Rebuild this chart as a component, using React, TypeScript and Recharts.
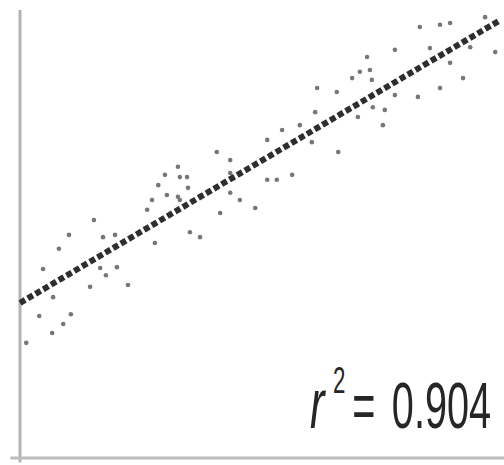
import { ComposedChart, Scatter, Line, XAxis, YAxis, ReferenceLine } from "recharts"

const xs = [
  1.3, 6.7, 9.0, 10.6, 4.0, 6.9, 4.8, 8.1, 10.2, 15.4, 14.6, 17.9, 16.7, 20.2, 22.5, 17.3, 19.8, 28.1,
  26.5, 27.5, 28.8, 30.2, 32.9, 33.3, 34.8, 30.6, 32.9, 35.0, 33.3, 41.0, 43.8, 43.8, 43.8, 45.8, 41.7,
  49.0, 35.4, 37.5, 51.5, 54.6, 58.3, 60.8, 61.5, 51.5, 53.5, 56.7, 61.9, 66.3, 66.0, 69.2, 70.8, 72.3,
  72.9, 73.3, 73.5, 76.0, 75.6, 70.4, 78.1, 82.9, 87.5, 92.3, 89.6, 85.4, 78.1, 83.3, 87.5, 89.6, 93.8,
  99.0, 96.9,
]
const ys = [
  25.7, 27.9, 29.9, 32.1, 31.7, 35.9, 42.2, 46.7, 49.8, 53.1, 38.2, 40.8, 42.4, 42.6, 38.6, 49.3, 49.8, 48.0,
  55.4, 57.6, 60.9, 63.2, 65.0, 62.7, 62.7, 58.7, 58.3, 60.3, 57.6, 68.3, 66.5, 63.6, 59.2, 57.6, 54.7,
  55.8, 50.4, 49.3, 71.0, 73.2, 74.3, 70.5, 77.2, 62.1, 62.1, 63.2, 82.6, 68.3, 81.7, 84.8, 86.2, 89.5,
  86.6, 84.4, 78.3, 77.7, 74.3, 76.1, 81.0, 80.6, 82.6, 84.8, 88.2, 91.5, 91.1, 96.2, 96.7, 97.1, 91.7,
  90.6, 98.4,
]

// fitted line endpoints
const fitX = [0, 100]
const fitY = [34.6, 97.7]

const rSquared = "0.904"

const points = xs.map((x, i) => ({ x, y: ys[i] }))
const fit = fitX.map((x, i) => ({ x, fy: fitY[i] }))

export default function App() {
  return (
    <div style={{ position: "absolute", left: 0, top: 0, width: 504, height: 465, background: "#fff" }}>
      <ComposedChart width={504} height={465} margin={{ top: 10, right: 4, bottom: 7, left: 20 }}>
        <XAxis type="number" dataKey="x" domain={[0, 100]} hide />
        <YAxis type="number" domain={[0, 100]} hide />
        <ReferenceLine
          segment={[{ x: 0, y: -1 }, { x: 0, y: 100 }]}
          stroke="#b4b4b4"
          strokeWidth={3}
          ifOverflow="visible"
        />
        <ReferenceLine
          segment={[{ x: -2, y: 0 }, { x: 101, y: 0 }]}
          stroke="#bcbcbc"
          strokeWidth={3}
          ifOverflow="visible"
        />
        <Scatter
          data={points}
          dataKey="y"
          fill="#777"
          shape={(p: any) => <circle cx={p.cx} cy={p.cy} r={2.3} fill="#777" />}
          isAnimationActive={false}
        />
        <Line
          data={fit}
          dataKey="fy"
          type="linear"
          stroke="#2e2e2e"
          strokeWidth={6}
          strokeDasharray="6 3"
          dot={false}
          activeDot={false}
          isAnimationActive={false}
        />
      </ComposedChart>
      <svg
        width={504}
        height={465}
        style={{ position: "absolute", left: 0, top: 0, pointerEvents: "none" }}
      >
        <text
          transform="translate(310,428) scale(0.62,1)"
          fontFamily="Liberation Sans, Arial, sans-serif"
          fontSize={64}
          fill="#262626"
        >
          <tspan x={0} fontSize={70} fontStyle="italic">r</tspan>
          <tspan x={37} dy={-35} fontSize={36}>2</tspan>
          <tspan x={68} dy={35}>=</tspan>
          <tspan x={132}>{rSquared}</tspan>
        </text>
      </svg>
    </div>
  )
}
